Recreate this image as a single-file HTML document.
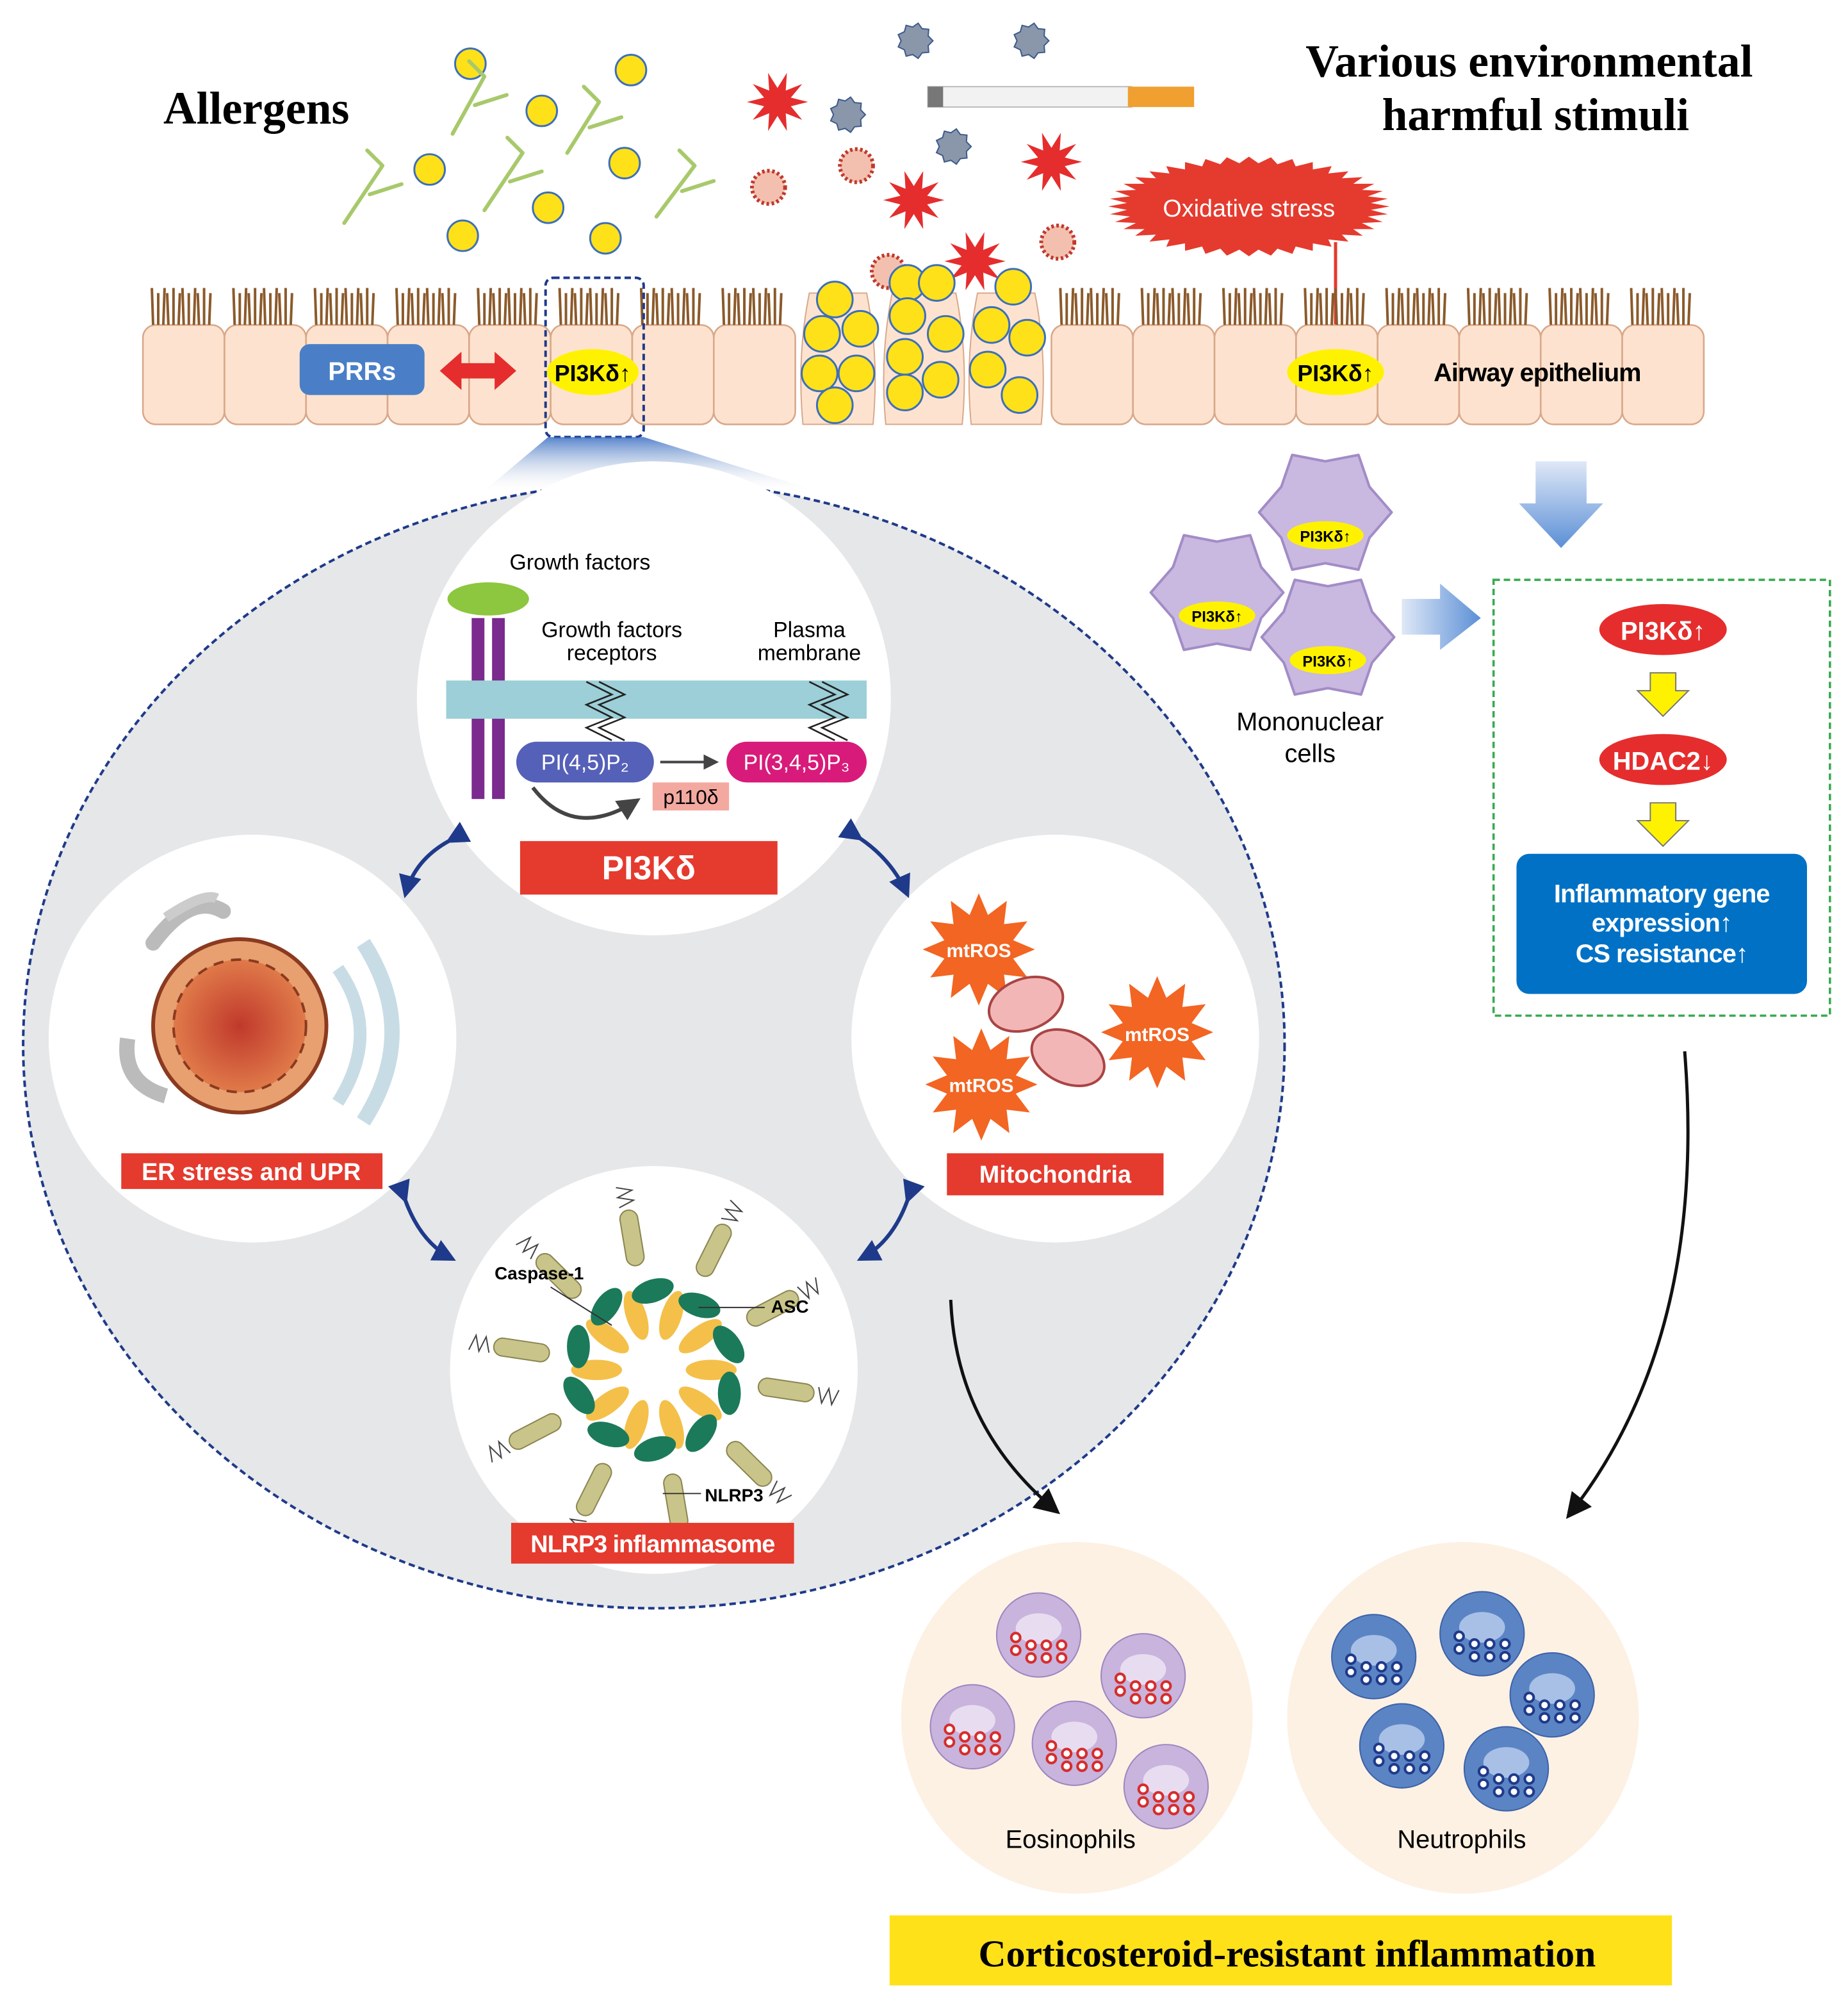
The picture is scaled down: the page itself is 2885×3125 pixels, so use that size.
<!DOCTYPE html>
<html><head><meta charset="utf-8"><style>
html,body{margin:0;padding:0;background:#fff}
svg{display:block}
text{font-family:"Liberation Sans",sans-serif}
.serif{font-family:"Liberation Serif",serif;font-weight:bold}
</style></head><body>
<svg id="s" width="2885" height="3125" viewBox="0 0 1450 1571" xmlns="http://www.w3.org/2000/svg">
<defs>
<linearGradient id="bg" x1="0" y1="0" x2="0" y2="1"><stop offset="0" stop-color="#3a6fc4"/><stop offset="1" stop-color="#e6e7e9" stop-opacity="0"/></linearGradient>
<linearGradient id="ba" x1="0" y1="0" x2="0" y2="1"><stop offset="0" stop-color="#dfe8f7"/><stop offset="1" stop-color="#5b8fd6"/></linearGradient>
<linearGradient id="ba2" x1="0" y1="0" x2="1" y2="0"><stop offset="0" stop-color="#dfe8f7"/><stop offset="1" stop-color="#5b8fd6"/></linearGradient>
<radialGradient id="nuc"><stop offset="0" stop-color="#c0392b"/><stop offset="1" stop-color="#e07a4a"/></radialGradient>
<marker id="ah" markerWidth="8" markerHeight="8" refX="6" refY="4" orient="auto"><path d="M0,0L8,4L0,8z" fill="#111"/></marker>
<marker id="ahr" markerWidth="6" markerHeight="6" refX="5" refY="3" orient="auto"><path d="M0,0L6,3L0,6z" fill="#e53a2e"/></marker>
<marker id="ahb" markerWidth="6" markerHeight="6" refX="5" refY="3" orient="auto"><path d="M0,0L6,3L0,6z" fill="#1f3a8a"/></marker>
<marker id="ahg" markerWidth="6" markerHeight="6" refX="5" refY="3" orient="auto"><path d="M0,0L6,3L0,6z" fill="#444"/></marker>
</defs>

<text x="128" y="97" class="serif" font-size="36">Allergens</text>
<text x="1200" y="60" class="serif" font-size="36" text-anchor="middle">Various environmental</text>
<text x="1205" y="102" class="serif" font-size="36" text-anchor="middle">harmful stimuli</text>

<g id="decor"></g>

<rect x="728" y="68" width="160" height="16" fill="#f2f2f2" stroke="#bbb"/>
<rect x="885" y="68" width="52" height="16" fill="#f0a030"/>
<rect x="728" y="68" width="12" height="16" fill="#777"/>

<path id="ox" fill="#e53a2e"/>
<text x="980" y="170" font-size="19" fill="#fff" text-anchor="middle">Oxidative stress</text>
<line x1="1048" y1="190" x2="1048" y2="268" stroke="#e53a2e" stroke-width="2.5" marker-end="url(#ahr)"/>

<g id="epi"></g>

<rect x="235" y="270" width="98" height="40" rx="8" fill="#4a7fc8"/>
<text x="284" y="298" font-size="20" fill="#fff" font-weight="bold" text-anchor="middle">PRRs</text>
<path d="M345,291 L362,276 L362,285 L388,285 L388,276 L405,291 L388,306 L388,297 L362,297 L362,306z" fill="#e52d2d"/>
<ellipse cx="465" cy="292" rx="36" ry="18" fill="#fff200"/>
<text x="465" y="299" font-size="18" font-weight="bold" text-anchor="middle">PI3Kδ↑</text>
<ellipse cx="1048" cy="292" rx="38" ry="18" fill="#fff200"/>
<text x="1048" y="299" font-size="18" font-weight="bold" text-anchor="middle">PI3Kδ↑</text>
<text x="1125" y="299" font-size="20" font-weight="bold" letter-spacing="-0.5">Airway epithelium</text>
<rect x="428" y="218" width="77" height="125" rx="6" fill="none" stroke="#1f3a8a" stroke-width="2" stroke-dasharray="5,3"/>

<path d="M430,343 L505,343 L640,385 L380,385z" fill="url(#bg)" opacity="0.85"/>
<ellipse cx="513" cy="820" rx="495" ry="442" fill="#e6e7e9" stroke="#1f3a8a" stroke-width="2" stroke-dasharray="5,3"/>
<circle cx="513" cy="548" r="186" fill="#fff"/>
<circle cx="198" cy="815" r="160" fill="#fff"/>
<circle cx="828" cy="815" r="160" fill="#fff"/>
<circle cx="513" cy="1075" r="160" fill="#fff"/>

<text x="455" y="447" font-size="17" text-anchor="middle">Growth factors</text>
<ellipse cx="383" cy="470" rx="32" ry="13" fill="#8dc63f"/>
<rect x="370" y="485" width="10" height="142" fill="#7b2a8e"/>
<rect x="386" y="485" width="10" height="142" fill="#7b2a8e"/>
<rect x="350" y="534" width="330" height="30" fill="#9ccfd8"/>
<text x="480" y="500" font-size="17" text-anchor="middle">Growth factors</text>
<text x="480" y="518" font-size="17" text-anchor="middle">receptors</text>
<text x="635" y="500" font-size="17" text-anchor="middle">Plasma</text>
<text x="635" y="518" font-size="17" text-anchor="middle">membrane</text>
<path d="M460,535 l20,10 l-20,8 l20,10 l-20,8 l20,10 M470,535 l20,10 l-20,8 l20,10 l-20,8 l20,10" fill="none" stroke="#222" stroke-width="1.3"/>
<path d="M635,535 l20,10 l-20,8 l20,10 l-20,8 l20,10 M645,535 l20,10 l-20,8 l20,10 l-20,8 l20,10" fill="none" stroke="#222" stroke-width="1.3"/>
<rect x="405" y="582" width="108" height="32" rx="16" fill="#5560b8"/>
<text x="459" y="604" font-size="17" fill="#fff" text-anchor="middle">PI(4,5)P₂</text>
<rect x="570" y="582" width="110" height="32" rx="16" fill="#d81b7a"/>
<text x="625" y="604" font-size="17" fill="#fff" text-anchor="middle">PI(3,4,5)P₃</text>
<line x1="518" y1="598" x2="562" y2="598" stroke="#444" stroke-width="2" marker-end="url(#ahg)"/>
<path d="M418,618 Q450,660 500,628" fill="none" stroke="#444" stroke-width="3" marker-end="url(#ahg)"/>
<rect x="512" y="614" width="60" height="22" fill="#f4a9a0"/>
<text x="542" y="631" font-size="16" text-anchor="middle">p110δ</text>
<rect x="408" y="660" width="202" height="42" fill="#e53a2e"/>
<text x="509" y="690" font-size="26" fill="#fff" font-weight="bold" text-anchor="middle">PI3Kδ</text>

<g fill="none" stroke="#1f3a8a" stroke-width="3" marker-end="url(#ahb)" marker-start="url(#ahb)">
<path d="M352,660 Q325,675 318,702"/>
<path d="M675,658 Q700,675 712,702"/>
<path d="M318,942 Q330,975 355,988"/>
<path d="M712,942 Q700,975 675,988"/>
</g>

<path d="M120,740 Q150,700 175,715" stroke="#bbb" stroke-width="12" fill="none" stroke-linecap="round"/>
<path d="M130,720 Q160,700 170,705" stroke="#ccc" stroke-width="8" fill="none"/>
<path d="M285,740 Q330,810 285,880" stroke="#c8dce5" stroke-width="12" fill="none"/>
<path d="M265,760 Q300,810 265,865" stroke="#c8dce5" stroke-width="10" fill="none"/>
<path d="M100,815 Q95,850 130,860" stroke="#bbb" stroke-width="12" fill="none"/>
<circle cx="188" cy="805" r="68" fill="#e8a070" stroke="#8b3a1f" stroke-width="3"/>
<circle cx="188" cy="805" r="52" fill="url(#nuc)" stroke="#8b3a1f" stroke-width="2" stroke-dasharray="8,6"/>
<rect x="95" y="905" width="205" height="28" fill="#e53a2e"/>
<text x="197" y="926" font-size="19" fill="#fff" font-weight="bold" text-anchor="middle">ER stress and UPR</text>

<g id="mtros"></g>
<ellipse cx="805" cy="788" rx="30" ry="20" fill="#f2b6b6" stroke="#a44" stroke-width="2" transform="rotate(-20 805 788)"/>
<ellipse cx="838" cy="830" rx="30" ry="20" fill="#f2b6b6" stroke="#a44" stroke-width="2" transform="rotate(25 838 830)"/>
<text x="768" y="751" font-size="15" fill="#fff" font-weight="bold" text-anchor="middle">mtROS</text>
<text x="908" y="817" font-size="15" fill="#fff" font-weight="bold" text-anchor="middle">mtROS</text>
<text x="770" y="857" font-size="15" fill="#fff" font-weight="bold" text-anchor="middle">mtROS</text>
<rect x="743" y="905" width="170" height="33" fill="#e53a2e"/>
<text x="828" y="928" font-size="19" fill="#fff" font-weight="bold" text-anchor="middle">Mitochondria</text>

<g id="nl"></g>
<text x="388" y="1004" font-size="14" font-weight="bold">Caspase-1</text>
<text x="605" y="1030" font-size="14" font-weight="bold">ASC</text>
<text x="553" y="1178" font-size="14" font-weight="bold">NLRP3</text>
<line x1="432" y1="1010" x2="480" y2="1040" stroke="#333"/>
<line x1="548" y1="1026" x2="600" y2="1026" stroke="#333"/>
<line x1="520" y1="1172" x2="550" y2="1172" stroke="#333"/>
<rect x="401" y="1195" width="222" height="32" fill="#e53a2e"/>
<text x="512" y="1218" font-size="19" fill="#fff" font-weight="bold" text-anchor="middle" letter-spacing="-0.5">NLRP3 inflammasome</text>

<g id="mono"></g>
<text x="1028" y="573" font-size="20" text-anchor="middle">Mononuclear</text>
<text x="1028" y="598" font-size="20" text-anchor="middle">cells</text>
<path d="M1205,362 L1245,362 L1245,395 L1258,395 L1225,430 L1192,395 L1205,395z" fill="url(#ba)"/>
<path d="M1100,470 L1130,470 L1130,458 L1162,485 L1130,510 L1130,498 L1100,498z" fill="url(#ba2)"/>

<rect x="1172" y="455" width="264" height="342" fill="none" stroke="#3aaa50" stroke-width="1.8" stroke-dasharray="5,3"/>
<ellipse cx="1305" cy="494" rx="50" ry="20" fill="#e52d2d"/>
<text x="1305" y="502" font-size="20" fill="#fff" font-weight="bold" text-anchor="middle">PI3Kδ↑</text>
<path d="M1295,528 h20 v14 h10 l-20,20 l-20,-20 h10z" fill="#fff200" stroke="#777"/>
<ellipse cx="1305" cy="596" rx="50" ry="20" fill="#e52d2d"/>
<text x="1305" y="604" font-size="20" fill="#fff" font-weight="bold" text-anchor="middle">HDAC2↓</text>
<path d="M1295,630 h20 v14 h10 l-20,20 l-20,-20 h10z" fill="#fff200" stroke="#777"/>
<rect x="1190" y="670" width="228" height="110" rx="10" fill="#0071c5"/>
<text x="1304" y="708" font-size="20" fill="#fff" font-weight="bold" text-anchor="middle" letter-spacing="-0.5">Inflammatory gene</text>
<text x="1304" y="731" font-size="20" fill="#fff" font-weight="bold" text-anchor="middle" letter-spacing="-0.5">expression↑</text>
<text x="1304" y="755" font-size="20" fill="#fff" font-weight="bold" text-anchor="middle" letter-spacing="-0.5">CS resistance↑</text>

<path d="M746,1020 Q750,1120 828,1185" fill="none" stroke="#111" stroke-width="2.5" marker-end="url(#ah)"/>
<path d="M1322,825 Q1340,1050 1232,1188" fill="none" stroke="#111" stroke-width="2.5" marker-end="url(#ah)"/>

<circle cx="845" cy="1348" r="138" fill="#fdf1e4"/>
<circle cx="1148" cy="1348" r="138" fill="#fdf1e4"/>
<g id="gran"></g>
<text x="840" y="1450" font-size="20" text-anchor="middle">Eosinophils</text>
<text x="1147" y="1450" font-size="20" text-anchor="middle">Neutrophils</text>

<rect x="698" y="1503" width="614" height="55" fill="#ffe11a"/>
<text x="1010" y="1543" class="serif" font-size="30" text-anchor="middle">Corticosteroid-resistant inflammation</text>

<script>
var NS="http://www.w3.org/2000/svg";
function el(p,t,a){var e=document.createElementNS(NS,t);for(var k in a)e.setAttribute(k,a[k]);document.getElementById(p).appendChild(e);return e;}
function star(cx,cy,r1,r2,n,rot){var d="";for(var i=0;i<2*n;i++){var r=i%2?r2:r1,a=Math.PI*i/n+(rot||0);d+=(i?"L":"M")+(cx+r*Math.cos(a)).toFixed(1)+","+(cy+r*Math.sin(a)).toFixed(1);}return d+"z";}
var d="";for(var i=0;i<80;i++){var a=2*Math.PI*i/80,r=i%2?1:1.15;d+=(i?"L":"M")+(980+96*r*Math.cos(a)).toFixed(1)+","+(162+34*r*Math.sin(a)).toFixed(1);}
document.getElementById("ox").setAttribute("d",d+"z");
[[369,50],[495,55],[425,87],[337,133],[490,128],[430,163],[363,185],[475,187]].forEach(function(p){el("decor","circle",{cx:p[0],cy:p[1],r:12,fill:"#ffe11a",stroke:"#3d6fb8","stroke-width":1.5});});
[[270,175,300,130],[355,105,380,60],[445,120,470,80],[380,165,410,120],[515,170,545,130]].forEach(function(p){el("decor","path",{d:"M"+p[0]+","+p[1]+" L"+p[2]+","+p[3]+" M"+((p[0]+p[2])/2+5)+","+((p[1]+p[3])/2)+" l25,-8 M"+(p[2])+","+(p[3])+" l-12,-12",stroke:"#a8c96b","stroke-width":3,fill:"none","stroke-linecap":"round"});});
[[610,80],[717,157],[825,127],[765,205]].forEach(function(p){el("decor","path",{d:star(p[0],p[1],24,11,10),fill:"#e52d2d"});});
[[718,32],[809,32],[665,90],[748,115]].forEach(function(p){el("decor","path",{d:star(p[0],p[1],14,11,9),fill:"#8a96aa",stroke:"#3d5a8a","stroke-width":1});});
[[603,147],[672,130],[830,190],[697,213]].forEach(function(p){el("decor","circle",{cx:p[0],cy:p[1],r:13,fill:"#f3c0b0",stroke:"#c0392b","stroke-width":3,"stroke-dasharray":"2,2"});});
var xs=[];for(var x=112;x<620;x+=64)xs.push(x);for(var x=825;x<1330;x+=64)xs.push(x);
xs.forEach(function(x){el("epi","rect",{x:x,y:255,width:64,height:78,rx:10,fill:"#fde3cf",stroke:"#d9a88a","stroke-width":1.3});
 for(var j=0;j<12;j++)el("epi","line",{x1:x+8+j*4,y1:255,x2:x+8+j*4+(j%3-1),y2:226+(j%2)*4,stroke:"#8b5a2b","stroke-width":2});});
[[625,690],[690,760],[757,822]].forEach(function(g){el("epi","path",{d:"M"+(g[0]+10)+",230 Q"+g[0]+",280 "+(g[0]+5)+",333 L"+(g[1]-5)+",333 Q"+g[1]+",280 "+(g[1]-10)+",230z",fill:"#fde3cf",stroke:"#d9a88a"});});
[[655,235],[645,262],[675,258],[643,293],[672,293],[655,318],[712,222],[735,222],[712,248],[742,262],[710,280],[738,298],[710,308],[795,225],[778,255],[806,265],[775,290],[800,310]].forEach(function(p){el("epi","circle",{cx:p[0],cy:p[1],r:14,fill:"#ffe11a",stroke:"#3d6fb8","stroke-width":1.5});});
[[768,745],[908,810],[770,851]].forEach(function(p){el("mtros","path",{d:star(p[0],p[1],44,28,12),fill:"#f26522"});});
for(var i=0;i<10;i++){var a=2*Math.PI*i/10;var cx=513,cy=1075;
 var x1=cx+45*Math.cos(a),y1=cy+45*Math.sin(a);
 el("nl","ellipse",{cx:x1,cy:y1,rx:20,ry:8,fill:"#f4c04a",transform:"rotate("+(a*180/Math.PI)+" "+x1+" "+y1+")"});
 var x3=cx+62*Math.cos(a+.3),y3=cy+62*Math.sin(a+.3);
 el("nl","ellipse",{cx:x3,cy:y3,rx:17,ry:9,fill:"#1b7a5a",transform:"rotate("+(a*180/Math.PI+90)+" "+x3+" "+y3+")"});
 var x4=cx+105*Math.cos(a+.15),y4=cy+105*Math.sin(a+.15);
 el("nl","rect",{x:x4-22,y:y4-7,width:44,height:14,rx:7,fill:"#c9c48a",stroke:"#8a8550",transform:"rotate("+(a*180/Math.PI+.15*57)+" "+x4+" "+y4+")"});
 var x5=cx+138*Math.cos(a+.15),y5=cy+138*Math.sin(a+.15);
 el("nl","path",{d:"M-8,-6 l4,12 l4,-12 l4,12 l4,-12",fill:"none",stroke:"#444","stroke-width":1,transform:"translate("+x5+" "+y5+") rotate("+(a*180/Math.PI+.15*57)+")"});}
[[1040,402],[955,465],[1042,500]].forEach(function(p){var d="";for(var i=0;i<12;i++){var a=2*Math.PI*i/12,r=i%2?40:52;d+=(i?"L":"M")+(p[0]+r*Math.cos(a)).toFixed(1)+","+(p[1]+r*Math.sin(a)).toFixed(1);}
 el("mono","path",{d:d+"z",fill:"#c9b8e0",stroke:"#a28cc6","stroke-width":2,"stroke-linejoin":"round"});
 el("mono","ellipse",{cx:p[0],cy:p[1]+18,rx:30,ry:11,fill:"#fff200"});
 var t=el("mono","text",{x:p[0],y:p[1]+23,"font-size":12,"font-weight":"bold","text-anchor":"middle"});t.textContent="PI3Kδ↑";});
[[815,1283],[897,1315],[763,1355],[843,1368],[915,1402]].forEach(function(p){el("gran","circle",{cx:p[0],cy:p[1],r:33,fill:"#c8b4dc",stroke:"#9c86c0"});el("gran","ellipse",{cx:p[0],cy:p[1]-5,rx:18,ry:12,fill:"#e8ddf0"});
 for(var k=0;k<8;k++)el("gran","circle",{cx:p[0]-18+(k%4)*12,cy:p[1]+8+Math.floor(k/4)*10-(k%4==0?6:0),r:3.5,fill:"#fff",stroke:"#d62d2d","stroke-width":2});});
[[1078,1300],[1163,1282],[1218,1330],[1100,1370],[1182,1388]].forEach(function(p){el("gran","circle",{cx:p[0],cy:p[1],r:33,fill:"#5b84c4",stroke:"#3c62a8"});el("gran","ellipse",{cx:p[0],cy:p[1]-5,rx:18,ry:12,fill:"#a8c0e6"});
 for(var k=0;k<8;k++)el("gran","circle",{cx:p[0]-18+(k%4)*12,cy:p[1]+8+Math.floor(k/4)*10-(k%4==0?6:0),r:3.5,fill:"#fff",stroke:"#1f3a8a","stroke-width":2});});
</script>
</svg>
</body></html>
